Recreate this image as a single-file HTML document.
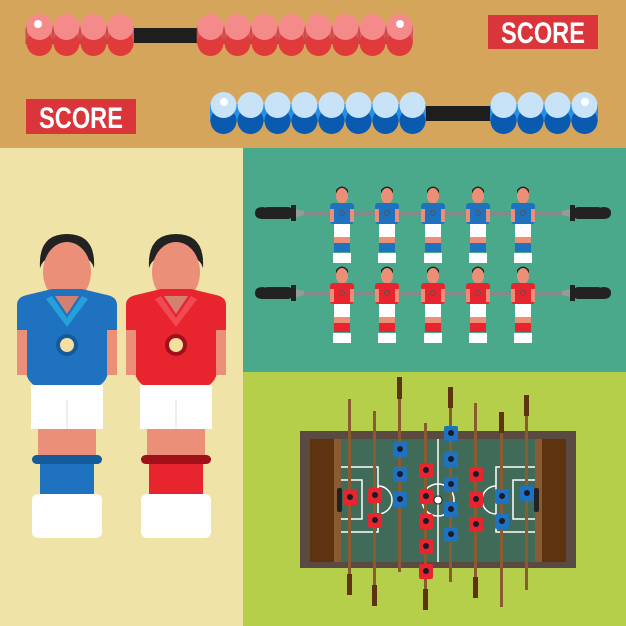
<!DOCTYPE html>
<html><head><meta charset="utf-8"><style>html,body{margin:0;padding:0;background:#fff}svg{display:block}</style></head>
<body>
<svg width="626" height="626" viewBox="0 0 626 626" xmlns="http://www.w3.org/2000/svg">
<defs>
<g id="rb"><rect x="0" y="26" width="27" height="18" fill="#d85a5e"/><circle cx="13.5" cy="43" r="13" fill="#e03a3a"/><circle cx="13.5" cy="27" r="13" fill="#f58a8a"/><line x1="0" y1="28" x2="0" y2="44" stroke="#b03a3a" stroke-width="0.8"/></g>
<g id="bb"><rect x="0" y="26" width="27" height="18" fill="#2a8fe0"/><circle cx="13.5" cy="43" r="13" fill="#0a5bb0"/><circle cx="13.5" cy="27" r="13" fill="#c8e2f8"/></g>
<g id="handle"><path d="M0,-6 q-8,0 -8,6 q0,6 8,6 h26 v-6z" fill="#222"/><rect x="0" y="-6" width="30" height="12" rx="5" fill="#222"/><rect x="28" y="-8" width="5" height="16" fill="#222"/><path d="M33,-4 l8,2 v4 l-8,2z" fill="#999"/></g>
<g id="bp"><path d="M-6,190 q6,-7 12,0 v3 h-12z" fill="#222"/><ellipse cx="0" cy="196" rx="6" ry="8" fill="#ec8f78"/><rect x="-12" y="203" width="24" height="21" rx="3"/><rect x="-12" y="209" width="4" height="13" fill="#ec8f78"/><rect x="8" y="209" width="4" height="13" fill="#ec8f78"/><circle cx="0" cy="213" r="2.5" fill="none" stroke="#555" stroke-width="1"/><rect x="-8" y="224" width="16" height="13" fill="#fff"/><rect x="-8" y="237" width="16" height="8" fill="#ec8f78"/><rect x="-8" y="243" width="16" height="9"/><rect x="-9" y="253" width="18" height="10" fill="#fff"/></g>
</defs>
<rect width="626" height="148" fill="#d4a55a"/>
<rect x="0" y="148" width="243" height="478" fill="#efe3a8"/>
<rect x="243" y="148" width="383" height="224" fill="#4aa98a"/>
<rect x="243" y="372" width="383" height="254" fill="#b5cf4a"/>

<rect x="130" y="28" width="70" height="15" fill="#1e1e1e"/>
<use href="#rb" x="26"/><use href="#rb" x="53"/><use href="#rb" x="80"/><use href="#rb" x="107"/>
<use href="#rb" x="197"/><use href="#rb" x="224"/><use href="#rb" x="251"/><use href="#rb" x="278"/><use href="#rb" x="305"/><use href="#rb" x="332"/><use href="#rb" x="359"/><use href="#rb" x="386"/>
<circle cx="38" cy="24" r="4" fill="#fff"/><circle cx="400" cy="24" r="4" fill="#fff"/>
<rect x="425" y="106" width="68" height="15" fill="#1e1e1e"/>
<g transform="translate(0,78)">
<use href="#bb" x="210"/><use href="#bb" x="237"/><use href="#bb" x="264"/><use href="#bb" x="291"/><use href="#bb" x="318"/><use href="#bb" x="345"/><use href="#bb" x="372"/><use href="#bb" x="399"/>
<use href="#bb" x="490"/><use href="#bb" x="517"/><use href="#bb" x="544"/><use href="#bb" x="571"/>
</g>
<circle cx="224" cy="102" r="4" fill="#fff"/><circle cx="585" cy="102" r="4" fill="#fff"/>
<rect x="488" y="15" width="110" height="34" fill="#d9353a"/>
<text x="543" y="43" text-anchor="middle" font-family="Liberation Sans Narrow, Liberation Sans, sans-serif" font-weight="bold" font-size="30" fill="#fff" textLength="84" lengthAdjust="spacingAndGlyphs">SCORE</text>
<rect x="26" y="99" width="110" height="35" fill="#d9353a"/>
<text x="81" y="128" text-anchor="middle" font-family="Liberation Sans Narrow, Liberation Sans, sans-serif" font-weight="bold" font-size="30" fill="#fff" textLength="84" lengthAdjust="spacingAndGlyphs">SCORE</text>

<g>
<path d="M40,268 q-2,-34 27,-34 q29,0 27,34 q-4,-14 -27,-14 q-23,0 -27,14z" fill="#222"/>
<ellipse cx="67" cy="272" rx="24" ry="30" fill="#ec8f78"/>
<path d="M17,305 q0,-8 10,-10 l25,-6 h30 l25,6 q10,2 10,10 v25 h-9 v40 q0,22 -41,22 q-41,0 -41,-22 v-40 h-9z" fill="#1e72c0"/>
<path d="M52,296 l15,22 l15,-22 l6,3 l-21,28 l-21,-28z" fill="#26a0d8"/>
<path d="M55,296 l12,18 l12,-18z" fill="#d48070"/>
<rect x="17" y="330" width="10" height="45" fill="#ec8f78"/><rect x="107" y="330" width="10" height="45" fill="#ec8f78"/>
<circle cx="67" cy="345" r="11" fill="#155a9a"/><circle cx="67" cy="345" r="7" fill="#f3e0a0"/>
<rect x="31" y="385" width="72" height="44" fill="#fff"/><line x1="67" y1="400" x2="67" y2="429" stroke="#ddd"/>
<rect x="38" y="429" width="58" height="32" fill="#ec8f78"/>
<rect x="40" y="460" width="54" height="36" fill="#1e72c0"/>
<rect x="32" y="455" width="70" height="9" rx="4.5" fill="#155a9a"/>
<rect x="32" y="494" width="70" height="44" rx="6" fill="#fff"/>
</g>
<g transform="translate(109,0)">
<path d="M40,268 q-2,-34 27,-34 q29,0 27,34 q-4,-14 -27,-14 q-23,0 -27,14z" fill="#222"/>
<ellipse cx="67" cy="272" rx="24" ry="30" fill="#ec8f78"/>
<path d="M17,305 q0,-8 10,-10 l25,-6 h30 l25,6 q10,2 10,10 v25 h-9 v40 q0,22 -41,22 q-41,0 -41,-22 v-40 h-9z" fill="#e8252e"/>
<path d="M52,296 l15,22 l15,-22 l6,3 l-21,28 l-21,-28z" fill="#f24a55"/>
<path d="M55,296 l12,18 l12,-18z" fill="#d48070"/>
<rect x="17" y="330" width="10" height="45" fill="#ec8f78"/><rect x="107" y="330" width="10" height="45" fill="#ec8f78"/>
<circle cx="67" cy="345" r="11" fill="#a01018"/><circle cx="67" cy="345" r="7" fill="#f3e0a0"/>
<rect x="31" y="385" width="72" height="44" fill="#fff"/><line x1="67" y1="400" x2="67" y2="429" stroke="#ddd"/>
<rect x="38" y="429" width="58" height="32" fill="#ec8f78"/>
<rect x="40" y="460" width="54" height="36" fill="#e8252e"/>
<rect x="32" y="455" width="70" height="9" rx="4.5" fill="#a01018"/>
<rect x="32" y="494" width="70" height="44" rx="6" fill="#fff"/>
</g>

<rect x="290" y="211" width="280" height="4" fill="#888"/>
<rect x="290" y="291" width="280" height="4" fill="#888"/>
<use href="#handle" transform="translate(263,213)"/>
<use href="#handle" transform="translate(603,213) scale(-1,1)"/>
<use href="#handle" transform="translate(263,293)"/>
<use href="#handle" transform="translate(603,293) scale(-1,1)"/>
<g fill="#1e72c0"><use href="#bp" x="342"/><use href="#bp" x="387"/><use href="#bp" x="433"/><use href="#bp" x="478"/><use href="#bp" x="523"/></g>
<g fill="#e8252e" transform="translate(0,80)"><use href="#bp" x="342"/><use href="#bp" x="387"/><use href="#bp" x="433"/><use href="#bp" x="478"/><use href="#bp" x="523"/></g>

<rect x="300" y="431" width="276" height="137" fill="#5a4a42"/>
<rect x="310" y="439" width="256" height="123" fill="#8a5a30"/>
<rect x="310" y="439" width="24" height="123" fill="#5e3410"/>
<rect x="542" y="439" width="24" height="123" fill="#5e3410"/>
<rect x="341" y="439" width="194" height="123" fill="#3f6b58"/>
<g stroke="#fff" stroke-width="1.5" fill="none">
<line x1="438" y1="439" x2="438" y2="562"/>
<circle cx="438" cy="500" r="16"/>
<path d="M341,467 h37 v65 h-37"/><path d="M341,480 h21 v39 h-21"/>
<path d="M378,486 a14,14 0 0 1 0,28"/>
<path d="M535,467 h-39 v65 h39"/><path d="M535,480 h-22 v39 h22"/>
<path d="M496,486 a14,14 0 0 0 0,28"/>
</g>
<rect x="337" y="488" width="5" height="24" rx="2" fill="#222"/>
<rect x="534" y="488" width="5" height="24" rx="2" fill="#222"/>
<circle cx="438" cy="500" r="4" fill="#fff" stroke="#222" stroke-width="1"/>
<g fill="#8a5a30">
<rect x="348" y="399" width="3" height="196"/><rect x="373" y="411" width="3" height="195"/>
<rect x="398" y="377" width="3" height="195"/><rect x="424" y="423" width="3" height="187"/>
<rect x="449" y="387" width="3" height="195"/><rect x="474" y="403" width="3" height="195"/>
<rect x="500" y="412" width="3" height="195"/><rect x="525" y="395" width="3" height="195"/>
</g>
<g fill="#5e3410">
<rect x="347" y="574" width="5" height="21"/><rect x="372" y="585" width="5" height="21"/>
<rect x="397" y="377" width="5" height="22"/><rect x="423" y="589" width="5" height="21"/>
<rect x="448" y="387" width="5" height="21"/><rect x="473" y="577" width="5" height="21"/>
<rect x="499" y="412" width="5" height="21"/><rect x="524" y="395" width="5" height="21"/>
</g>
<g fill="#e8252e">
<rect x="343" y="490" width="14" height="15" rx="2"/>
<rect x="368" y="488" width="14" height="15" rx="2"/><rect x="368" y="513" width="14" height="15" rx="2"/>
<rect x="419" y="463" width="14" height="15" rx="2"/><rect x="419" y="489" width="14" height="15" rx="2"/><rect x="419" y="514" width="14" height="15" rx="2"/><rect x="419" y="539" width="14" height="15" rx="2"/><rect x="419" y="564" width="14" height="15" rx="2"/>
<rect x="469" y="467" width="14" height="15" rx="2"/><rect x="469" y="492" width="14" height="15" rx="2"/><rect x="469" y="517" width="14" height="15" rx="2"/>
</g>
<g fill="#1e72c0">
<rect x="393" y="442" width="14" height="15" rx="2"/><rect x="393" y="467" width="14" height="15" rx="2"/><rect x="393" y="492" width="14" height="15" rx="2"/>
<rect x="444" y="426" width="14" height="15" rx="2"/><rect x="444" y="452" width="14" height="15" rx="2"/><rect x="444" y="477" width="14" height="15" rx="2"/><rect x="444" y="502" width="14" height="15" rx="2"/><rect x="444" y="527" width="14" height="15" rx="2"/>
<rect x="495" y="489" width="14" height="15" rx="2"/><rect x="495" y="514" width="14" height="15" rx="2"/>
<rect x="520" y="486" width="14" height="15" rx="2"/>
</g>
<g fill="#1a1a2a">
<circle cx="350" cy="497" r="3"/><circle cx="375" cy="495" r="3"/><circle cx="375" cy="520" r="3"/>
<circle cx="426" cy="470" r="3"/><circle cx="426" cy="496" r="3"/><circle cx="426" cy="521" r="3"/><circle cx="426" cy="546" r="3"/><circle cx="426" cy="571" r="3"/>
<circle cx="476" cy="474" r="3"/><circle cx="476" cy="499" r="3"/><circle cx="476" cy="524" r="3"/>
<circle cx="400" cy="449" r="3"/><circle cx="400" cy="474" r="3"/><circle cx="400" cy="499" r="3"/>
<circle cx="451" cy="433" r="3"/><circle cx="451" cy="459" r="3"/><circle cx="451" cy="484" r="3"/><circle cx="451" cy="509" r="3"/><circle cx="451" cy="534" r="3"/>
<circle cx="502" cy="496" r="3"/><circle cx="502" cy="521" r="3"/><circle cx="527" cy="493" r="3"/>
</g>
</svg>
</body></html>
